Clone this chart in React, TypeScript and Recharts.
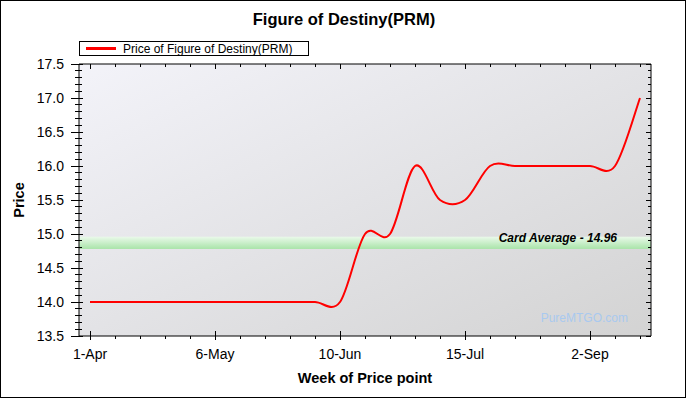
import React from "react";
import { LineChart, Line, XAxis, YAxis, Legend, ReferenceArea, CartesianGrid } from "recharts";

const FONT = "Arial, 'Liberation Sans', sans-serif";

// weekly price points (labels shown every 5th point)
const weeks = [
  "1-Apr", "8-Apr", "15-Apr", "22-Apr", "29-Apr", "6-May", "13-May", "20-May",
  "27-May", "3-Jun", "10-Jun", "17-Jun", "24-Jun", "1-Jul", "8-Jul", "15-Jul",
  "22-Jul", "29-Jul", "5-Aug", "19-Aug", "2-Sep", "9-Sep", "16-Sep",
];
const prices = [
  14, 14, 14, 14, 14, 14, 14, 14, 14, 14, 14, 15, 15, 16, 15.5, 15.5,
  16, 16, 16, 16, 16, 16, 17,
];
const cardAverage = 14.96;
const bandBottom = 14.78;
const yDomain = [13.5, 17.5];
const yTicks = Array.from({ length: 41 }, (_, i) => Math.round((13.5 + i * 0.1) * 10) / 10);

const data = weeks.map((week, i) => ({ week, price: prices[i] }));

const X_PAD = 11;

// uniform catmull-rom spline, like the original chart's smoothing
const catmullRom = (ctx: any) => {
  let pts: number[][] = [];
  return {
    areaStart() {},
    areaEnd() {},
    lineStart() {
      pts = [];
    },
    point(x: number, y: number) {
      pts.push([+x, +y]);
    },
    lineEnd() {
      if (!pts.length) return;
      ctx.moveTo(pts[0][0], pts[0][1]);
      for (let i = 0; i < pts.length - 1; i++) {
        const p0 = pts[i - 1] || pts[i];
        const p1 = pts[i];
        const p2 = pts[i + 1];
        const p3 = pts[i + 2] || p2;
        ctx.bezierCurveTo(
          p1[0] + (p2[0] - p0[0]) / 6,
          p1[1] + (p2[1] - p0[1]) / 6,
          p2[0] - (p3[0] - p1[0]) / 6,
          p2[1] - (p3[1] - p1[1]) / 6,
          p2[0],
          p2[1]
        );
      }
    },
  };
};

const isMajorY = (v: number) => Math.round(v * 10) % 5 === 0;

const LeftTick = ({ x, y, payload }: any) => {
  const major = isMajorY(payload.value);
  return (
    <g>
      <line x1={x - (major ? 8 : 4)} x2={x + (major ? 4 : 3)} y1={y} y2={y} stroke="#000" shapeRendering="crispEdges" />
      {major && (
        <text x={x - 15} y={y} dy="0.36em" textAnchor="end" fontSize={14} fontFamily={FONT} fill="#000">
          {payload.value.toFixed(1)}
        </text>
      )}
    </g>
  );
};

const RightTick = ({ x, y, payload }: any) => {
  const major = isMajorY(payload.value);
  return <line x1={x - (major ? 5 : 3)} x2={x} y1={y} y2={y} stroke="#000" shapeRendering="crispEdges" />;
};

const BottomTick = ({ x, y, payload, index }: any) => {
  const major = index % 5 === 0;
  return (
    <g>
      <line x1={x} x2={x} y1={y - (major ? 5 : 0)} y2={y + (major ? 4 : 3)} stroke="#000" shapeRendering="crispEdges" />
      {major && (
        <text x={x} y={y + 23} textAnchor="middle" fontSize={14} fontFamily={FONT} fill="#000">
          {payload.value}
        </text>
      )}
    </g>
  );
};

const TopTick = ({ x, y, index }: any) => {
  const major = index % 5 === 0;
  return <line x1={x} x2={x} y1={y} y2={y + (major ? 5 : 3)} stroke="#000" shapeRendering="crispEdges" />;
};

const XTitle = ({ viewBox }: any) => (
  <text x={viewBox.x + viewBox.width / 2} y={viewBox.y + 47} textAnchor="middle" fontSize={14.5} fontWeight="bold" fontFamily={FONT} fill="#000">
    Week of Price point
  </text>
);

const YTitle = ({ viewBox }: any) => (
  <text
    transform={`translate(${viewBox.x + 5}, ${viewBox.y + viewBox.height / 2}) rotate(-90)`}
    textAnchor="middle"
    fontSize={14.5}
    fontWeight="bold"
    fontFamily={FONT}
    fill="#000"
  >
    Price
  </text>
);

// band spans the whole plot width, not only the first..last point
const BandShape = ({ x, y, width, height }: any) => (
  <rect x={x - X_PAD} y={y} width={width + 2 * X_PAD} height={height} fill="url(#bandBg)" />
);

const AvgLabel = ({ viewBox }: any) => (
  <text
    x={viewBox.x + viewBox.width - 23}
    y={viewBox.y + 5.5}
    textAnchor="end"
    fontSize={12}
    fontWeight="bold"
    fontStyle="italic"
    fontFamily={FONT}
    fill="#000"
  >
    {`Card Average - ${cardAverage.toFixed(2)}`}
  </text>
);

const LegendBox = () => (
  <div
    style={{
      boxSizing: "border-box",
      width: 230,
      height: 15,
      border: "1px solid #000",
      background: "#fff",
      display: "flex",
      alignItems: "center",
      fontFamily: FONT,
      fontSize: 12,
      color: "#000",
      whiteSpace: "nowrap",
    }}
  >
    <div style={{ width: 30, height: 3, background: "#ff0000", marginLeft: 6, marginRight: 7 }} />
    <span>Price of Figure of Destiny(PRM)</span>
  </div>
);

export default function App() {
  return (
    <div style={{ position: "absolute", left: 0, top: 0, width: 687, height: 399, background: "#fff" }}>
      <LineChart width={687} height={399} data={data} margin={{ top: 63, right: 35, bottom: 18, left: 19 }}>
        <defs>
          <linearGradient id="plotBg" x1="0" y1="0" x2="1" y2="1">
            <stop offset="0%" stopColor="#f3f3f9" />
            <stop offset="100%" stopColor="#d3d3d3" />
          </linearGradient>
          <linearGradient id="bandBg" x1="0" y1="0" x2="0" y2="1">
            <stop offset="0%" stopColor="#eaf9ea" />
            <stop offset="100%" stopColor="#a9e4a9" />
          </linearGradient>
        </defs>
        <rect x={0.5} y={0.5} width={685} height={397} fill="none" stroke="#000" />
        <text x={344} y={25} textAnchor="middle" fontSize={16.5} fontWeight="bold" fontFamily={FONT} fill="#000">
          Figure of Destiny(PRM)
        </text>
        <CartesianGrid stroke="none" fill="url(#plotBg)" fillOpacity={1} />
        <ReferenceArea y1={bandBottom} y2={cardAverage} shape={BandShape} label={AvgLabel} />
        <XAxis
          dataKey="week"
          interval={0}
          padding={{ left: X_PAD, right: X_PAD }}
          height={45}
          tickSize={0}
          tickMargin={0}
          tickLine={false}
          axisLine={{ stroke: "#000" }}
          tick={BottomTick}
          label={XTitle}
        />
        <XAxis
          xAxisId="top"
          orientation="top"
          dataKey="week"
          interval={0}
          padding={{ left: X_PAD, right: X_PAD }}
          height={1}
          tickSize={0}
          tickMargin={0}
          tickLine={false}
          axisLine={{ stroke: "#000" }}
          tick={TopTick}
        />
        <YAxis
          type="number"
          domain={yDomain}
          ticks={yTicks}
          interval={0}
          width={60}
          tickSize={0}
          tickMargin={0}
          tickLine={false}
          axisLine={{ stroke: "#000" }}
          tick={LeftTick}
          label={YTitle}
        />
        <YAxis
          yAxisId="right"
          orientation="right"
          type="number"
          domain={yDomain}
          ticks={yTicks}
          interval={0}
          width={1}
          tickSize={0}
          tickMargin={0}
          tickLine={false}
          axisLine={{ stroke: "#000" }}
          tick={RightTick}
        />
        <Legend
          layout="vertical"
          align="center"
          verticalAlign="middle"
          wrapperStyle={{ top: 41, left: 79, width: "auto", height: "auto" }}
          content={LegendBox}
        />
        {/* invisible copy bound to the top/right frame axes so they get drawn */}
        <Line
          xAxisId="top"
          yAxisId="right"
          dataKey="price"
          stroke="none"
          dot={false}
          activeDot={false}
          legendType="none"
          isAnimationActive={false}
        />
        <Line
          type={catmullRom as any}
          dataKey="price"
          stroke="#ff0000"
          strokeWidth={2}
          dot={false}
          activeDot={false}
          isAnimationActive={false}
        />
      </LineChart>
      <div
        style={{
          position: "absolute",
          left: 500,
          top: 312,
          width: 128,
          textAlign: "right",
          fontFamily: FONT,
          fontSize: 12,
          lineHeight: "12px",
          color: "#a9c9ef",
        }}
      >
        PureMTGO.com
      </div>
    </div>
  );
}
